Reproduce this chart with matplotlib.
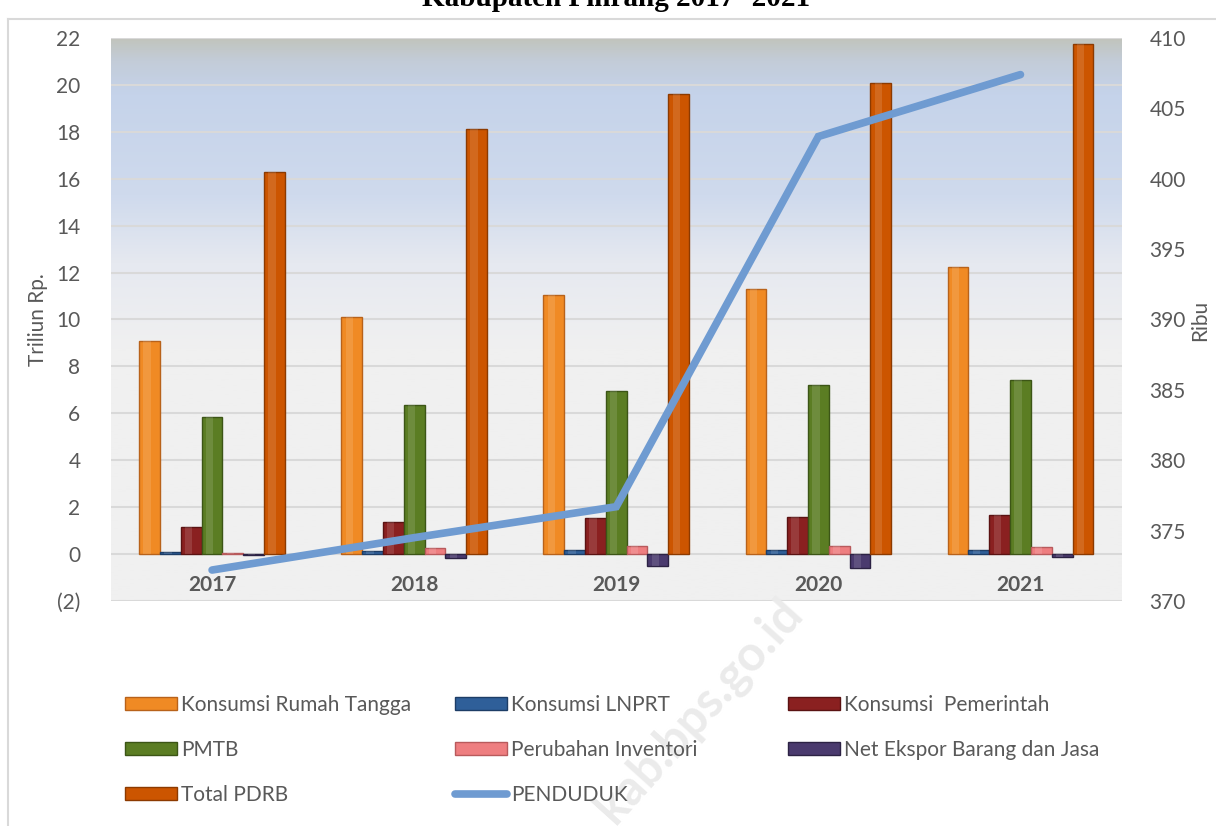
import matplotlib.pyplot as plt
import matplotlib.colors as mcolors
import numpy as np
from matplotlib.patches import Patch
from matplotlib.lines import Line2D

plt.rcParams["font.family"] = ["Lato", "DejaVu Sans"]

# data (triliun Rp. / ribu jiwa)
years = ["2017", "2018", "2019", "2020", "2021"]
series_names = [
    "Konsumsi Rumah Tangga",
    "Konsumsi LNPRT",
    "Konsumsi  Pemerintah",
    "PMTB",
    "Perubahan Inventori",
    "Net Ekspor Barang dan Jasa",
    "Total PDRB",
]
rumah_tangga = [9.1, 10.1, 11.05, 11.3, 12.25]
lnprt = [0.1, 0.15, 0.17, 0.17, 0.18]
pemerintah = [1.15, 1.35, 1.55, 1.6, 1.68]
pmtb = [5.85, 6.35, 6.95, 7.2, 7.4]
inventori = [0.05, 0.25, 0.35, 0.35, 0.3]
net_ekspor = [-0.03, -0.15, -0.5, -0.6, -0.12]
total_pdrb = [16.3, 18.1, 19.6, 20.1, 21.75]
penduduk = [372.2, 374.5, 376.7, 403.0, 407.4]

left_ticks = list(range(-2, 23, 2))
right_ticks = list(range(370, 411, 5))

colors = ["#f08a24", "#2f5f99", "#8a2020", "#5b7d23", "#ee7e80", "#4a3a6e", "#cc5500"]
edges = ["#b8621a", "#1d3d66", "#5a1212", "#3c5516", "#b85a5c", "#2c2244", "#8c3a00"]
line_color = "#6f9bd1"
text_color = "#595959"

fig = plt.figure(figsize=(12.16, 8.26), dpi=100)
ax = fig.add_axes([0.0913, 0.2724, 0.831, 0.6816])
ax2 = ax.twinx()

# gradient plot background
grad = mcolors.LinearSegmentedColormap.from_list(
    "bg",
    [(0.0, "#f0f0f0"), (0.45, "#f0f0f0"), (0.6, "#e6e9f0"), (0.72, "#cfdaed"),
     (0.9, "#c5d3ea"), (0.96, "#c3ccd8"), (1.0, "#c1c4bc")],
)
ax.imshow(np.linspace(0, 1, 256).reshape(-1, 1), cmap=grad, origin="lower",
          extent=[0, 1, 0, 1], transform=ax.transAxes, aspect="auto", zorder=0)

x = np.arange(len(years))
width = 0.103
values = [rumah_tangga, lnprt, pemerintah, pmtb, inventori, net_ekspor, total_pdrb]
for i, (vals, c, e) in enumerate(zip(values, colors, edges)):
    off = (i - 3) * width
    ax.bar(x + off, vals, width, color=c, edgecolor=e, linewidth=1.0, zorder=3)
    # highlight strip for a bevelled look
    ax.bar(x + off - width * 0.12, vals, width * 0.35, color="white", alpha=0.12,
           linewidth=0, zorder=4)

ax.set_xlim(-0.5, len(years) - 0.5)
ax.set_ylim(-2, 22)
ax.set_yticks(left_ticks)
ax.set_yticklabels([f"({abs(t)})" if t < 0 else str(t) for t in left_ticks])
ax.set_xticks([])
ax.grid(axis="y", color="#d9d9d9", linewidth=1.5, zorder=1)
ax.set_axisbelow(True)
ax.tick_params(axis="y", length=0, pad=22, labelsize=15, labelcolor=text_color)
for s in ax.spines.values():
    s.set_visible(False)

for xi, yr in zip(x, years):
    ax.text(xi, -1.33, yr, ha="center", va="center", fontsize=15, fontweight="bold",
            color=text_color, zorder=5)

ax2.plot(x, penduduk, color=line_color, linewidth=5.5, solid_capstyle="round",
         solid_joinstyle="miter", zorder=6)
ax2.set_ylim(370, 410)
ax2.set_yticks(right_ticks)
ax2.tick_params(axis="y", length=0, pad=20, labelsize=15, labelcolor=text_color)
for s in ax2.spines.values():
    s.set_visible(False)

fig.text(0.031, 1 - 320 / 826, "Triliun Rp.", rotation=90, ha="center", va="center",
         fontsize=15, color=text_color)
fig.text(0.987, 1 - 320 / 826, "Ribu", rotation=90, ha="center", va="center",
         fontsize=15, color=text_color)

# title, cut off by the top edge as in the source
fig.text(616 / 1216, 1 - 6 / 826, "Kabupaten Pinrang 2017- 2021", ha="center",
         va="baseline", fontsize=21, fontweight="bold", family="Liberation Serif")

# chart frame (left and top edges)
fig.add_artist(Line2D([8 / 1216, 8 / 1216], [0, 1 - 19 / 826], color="#d9d9d9",
                      linewidth=1.5, transform=fig.transFigure))
fig.add_artist(Line2D([8 / 1216, 1], [1 - 19 / 826, 1 - 19 / 826], color="#d9d9d9",
                      linewidth=1.5, transform=fig.transFigure))

# watermark
fig.text(0.575, 0.14, "kab.bps.go.id", rotation=48, ha="center", va="center",
         fontsize=35, fontweight="bold", color="#ebebeb", zorder=1)

# legend in three columns
handles = [Patch(facecolor=c, edgecolor=e, linewidth=1.0) for c, e in zip(colors, edges)]
pend_handle = Line2D([], [], color=line_color, linewidth=5.5, solid_capstyle="round")
columns = [
    ([handles[0], handles[3], handles[6]], [series_names[0], series_names[3], series_names[6]], 125),
    ([handles[1], handles[4], pend_handle], [series_names[1], series_names[4], "PENDUDUK"], 455),
    ([handles[2], handles[5]], [series_names[2], series_names[5]], 788),
]
for hs, labels, px in columns:
    fig.legend(hs, labels, loc="upper left", bbox_to_anchor=(px / 1216, 1 - 695 / 826),
               frameon=False, fontsize=15, labelcolor=text_color, handlelength=2.5,
               handleheight=0.6, handletextpad=0.2, labelspacing=1.2,
               borderaxespad=0, borderpad=0)

fig.savefig("out.png", dpi=100, facecolor="white")
